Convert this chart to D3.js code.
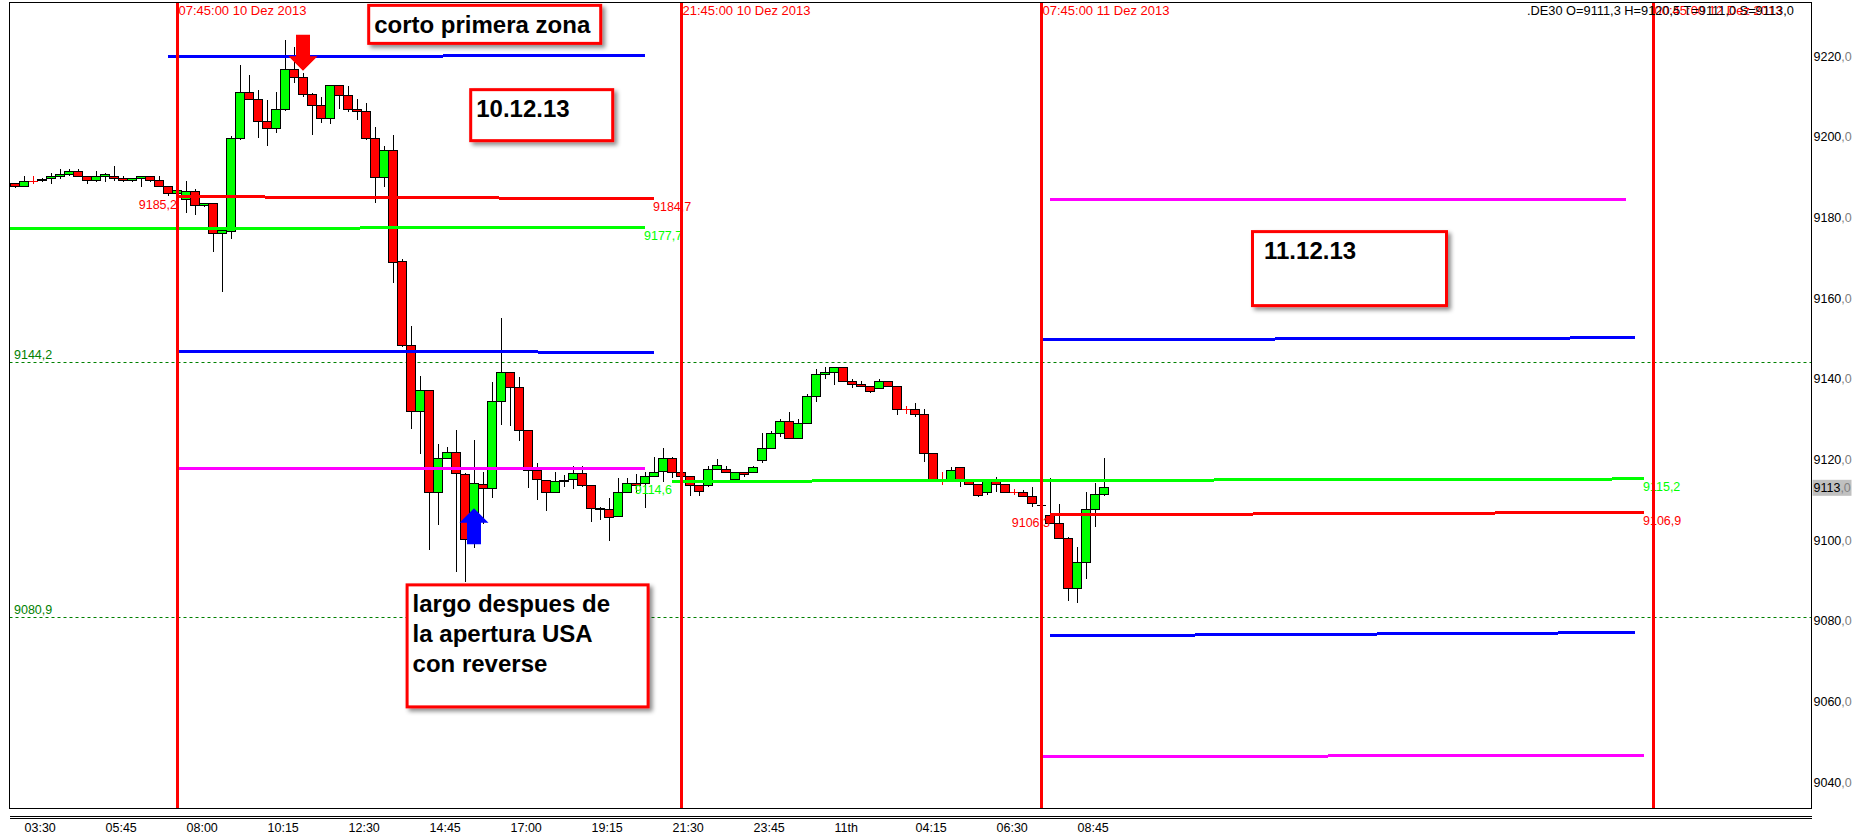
<!doctype html>
<html>
<head>
<meta charset="utf-8">
<title>.DE30 15 min - 10/11 Dez 2013</title>
<script src="https://cdn.jsdelivr.net/npm/d3@7/dist/d3.min.js"></script>
<style>
body { margin: 0; background: #fff; }
svg { display: block; font-family: 'Liberation Sans', Arial, sans-serif; }
.small { font-size: 12.5px; }
.note { font-size: 24px; font-weight: bold; fill: #000; }
</style>
</head>
<body>
<div id="chart"></div>
<script>
// 15 min bars, first bar 10 Dez 2013 03:15
var barStart = new Date(2013, 11, 10, 3, 15);
var barMinutes = 15;

var opens = [9188.5,9187.8,9189.1,9189.1,9189.6,9190.3,9190.8,9191.5,9190.2,9189.1,
  9190.2,9190.3,9189.6,9189.2,9189.6,9190.2,9189.1,9187.8,9186.0,9184.4,
  9186.5,9182.9,9183.4,9176.1,9176.5,9199.7,9211.1,9209.3,9203.9,9202.1,
  9206.9,9216.8,9214.8,9210.6,9207.8,9204.6,9212.8,9210.3,9206.9,9206.4,
  9199.7,9190.0,9196.6,9169.0,9148.3,9132.0,9137.1,9111.9,9120.3,9121.7,
  9116.4,9101.7,9113.9,9112.9,9134.5,9141.6,9137.9,9127.2,9117.2,9114.8,
  9111.9,9114.8,9115.1,9116.6,9113.5,9107.9,9107.5,9106.0,9111.9,9114.1,
  9114.1,9115.9,9117.0,9120.3,9116.8,9115.8,9113.5,9113.5,9117.6,9117.6,
  9115.1,9116.8,9116.8,9119.7,9122.8,9126.5,9129.4,9125.3,9129.0,9135.6,
  9141.1,9141.5,9142.9,9139.4,9138.7,9138.1,9137.7,9139.3,9138.1,9132.5,
  9132.5,9131.2,9121.4,9115.2,9114.5,9118.1,9114.9,9113.9,9111.9,9114.9,
  9113.9,9111.9,9111.9,9110.8,9108.7,9106.1,9104.2,9100.5,9088.1,9094.5,
  9107.5,9111.3];
var highs = [9188.7,9190.3,9190.2,9189.7,9191.0,9192.0,9192.0,9192.0,9190.3,9191.6,
  9191.0,9192.8,9190.2,9189.8,9190.3,9190.4,9190.3,9187.9,9187.0,9189.2,
  9187.0,9183.7,9183.5,9177.1,9200.2,9217.8,9215.4,9211.6,9209.2,9211.2,
  9224.0,9222.4,9215.8,9210.8,9210.0,9212.8,9212.8,9212.6,9209.3,9208.5,
  9202.4,9197.8,9200.6,9169.7,9153.1,9140.7,9137.2,9123.9,9123.2,9127.4,
  9116.6,9124.9,9116.8,9139.3,9155.0,9141.6,9140.6,9127.2,9119.2,9114.8,
  9117.0,9116.2,9118.3,9118.3,9113.5,9108.3,9110.4,9115.5,9115.4,9116.4,
  9117.0,9120.7,9122.8,9120.7,9117.0,9115.9,9113.7,9118.3,9120.1,9118.3,
  9117.0,9117.0,9118.3,9126.5,9127.2,9130.0,9131.9,9130.0,9136.3,9142.4,
  9142.9,9142.9,9142.9,9139.9,9139.5,9138.2,9139.9,9139.4,9138.2,9133.3,
  9134.1,9132.5,9121.7,9117.0,9118.1,9118.2,9115.0,9114.0,9115.0,9115.8,
  9114.0,9112.6,9112.5,9113.3,9108.7,9115.4,9109.0,9100.9,9098.4,9112.0,
  9114.3,9120.5];
var lows = [9187.3,9187.7,9188.3,9188.9,9188.3,9189.5,9190.2,9190.2,9188.3,9188.9,
  9188.9,9189.2,9188.9,9188.9,9187.7,9188.9,9187.7,9185.4,9185.2,9181.2,
  9180.6,9182.7,9171.5,9161.6,9174.6,9199.2,9209.2,9199.7,9197.8,9201.1,
  9206.5,9213.3,9210.0,9200.5,9203.5,9203.2,9206.9,9206.3,9204.2,9199.2,
  9183.7,9187.7,9163.9,9148.0,9127.7,9121.4,9097.6,9103.8,9120.2,9092.1,
  9089.6,9098.0,9104.0,9110.4,9128.6,9128.3,9124.7,9112.9,9110.0,9107.3,
  9111.8,9113.1,9112.6,9113.3,9104.6,9105.0,9099.7,9105.9,9111.8,9111.6,
  9107.9,9115.7,9114.5,9115.4,9114.1,9111.0,9111.0,9113.3,9117.5,9116.6,
  9114.9,9115.6,9116.6,9119.2,9122.6,9125.7,9125.1,9125.1,9128.9,9134.4,
  9139.9,9138.5,9139.2,9137.7,9137.9,9136.4,9137.6,9138.0,9131.1,9131.3,
  9130.5,9119.5,9114.9,9113.7,9114.4,9113.1,9113.7,9110.8,9111.2,9111.9,
  9111.8,9111.2,9110.7,9108.3,9108.7,9104.0,9100.3,9085.0,9084.4,9090.3,
  9103.2,9111.0];
var closes = [9187.8,9188.9,9189.1,9189.5,9190.3,9190.8,9191.5,9190.3,9189.1,9190.2,
  9190.7,9189.7,9189.2,9189.6,9190.2,9189.1,9187.8,9186.0,9186.8,9186.5,
  9182.9,9183.4,9176.1,9176.9,9199.7,9211.1,9209.3,9203.9,9202.1,9206.9,
  9216.8,9214.8,9210.6,9207.8,9204.6,9212.8,9210.3,9206.9,9206.4,9199.7,
  9190.0,9196.6,9168.9,9148.3,9132.0,9137.1,9111.9,9120.3,9121.7,9116.6,
  9100.1,9114.1,9112.9,9134.5,9141.6,9137.9,9127.2,9117.2,9115.0,9111.9,
  9114.5,9114.5,9116.6,9113.5,9107.9,9107.5,9105.7,9111.9,9114.1,9113.5,
  9115.9,9116.8,9120.3,9116.8,9115.8,9113.5,9112.2,9117.6,9118.5,9116.8,
  9116.8,9116.3,9118.1,9122.8,9126.5,9129.4,9125.3,9129.0,9135.6,9141.1,
  9141.5,9142.9,9139.4,9138.7,9138.1,9136.8,9139.3,9138.1,9132.5,9132.5,
  9131.2,9121.4,9115.1,9115.2,9117.2,9114.9,9113.9,9111.2,9114.9,9113.9,
  9111.9,9111.9,9110.8,9109.0,9108.7,9104.2,9100.5,9088.1,9094.5,9107.5,
  9111.4,9113.0];

// horizontal levels (trend lines)
var levelKind  = ['blue','red','green','blue','magenta','green','red','blue','magenta','blue','magenta'];
var levelFrom  = ['2013-12-10 07:30','2013-12-10 07:45','2013-12-10 03:00','2013-12-10 07:45','2013-12-10 07:45',
                  '2013-12-10 21:30','2013-12-11 08:00','2013-12-11 07:45','2013-12-11 08:00','2013-12-11 08:00','2013-12-11 07:45'];
var levelTo    = ['2013-12-10 20:45','2013-12-10 21:00','2013-12-10 20:45','2013-12-10 21:00','2013-12-10 20:45',
                  '2013-12-12 00:30','2013-12-12 00:30','2013-12-12 00:15','2013-12-12 00:00','2013-12-12 00:15','2013-12-12 00:30'];
var levelP1    = [9219.9,9185.2,9177.2,9146.9,9117.7,9114.6,9106.3,9149.7,9184.6,9076.3,9046.4];
var levelP2    = [9220.2,9184.7,9177.6,9146.6,9117.7,9115.2,9106.9,9150.2,9184.6,9077.1,9046.6];
var levelLab1  = ['','9185,2','','','','9114,6','9106,3','','','',''];
var levelLab2  = ['','9184,7','9177,7','','','9115,2','9106,9','','','',''];

// dotted horizontal lines
var hlinePrices = [9144.2, 9080.9];
var hlineLabels = ['9144,2', '9080,9'];

// vertical lines
var vlineTimes  = ['2013-12-10 07:45','2013-12-10 21:45','2013-12-11 07:45','2013-12-12 00:45'];
var vlineLabels = ['07:45:00 10 Dez 2013','21:45:00 10 Dez 2013','07:45:00 11 Dez 2013','00:45:00 12 Dez 2013'];

// arrows
var arrowTimes  = ['2013-12-10 11:15', '2013-12-10 16:00'];
var arrowPrices = [9216.4, 9107.9];
var arrowDirs   = ['down', 'up'];

// text notes
var noteLines  = [['corto primera zona'], ['10.12.13'], ['11.12.13'], ['largo despues de', 'la apertura USA', 'con reverse']];
var noteTimes  = ['2013-12-10 13:02', '2013-12-10 15:52', '2013-12-11 13:35', '2013-12-10 14:06'];
var notePrices = [9233.0, 9212.1, 9176.9, 9089.3];

// axes
var priceTicks = [9040, 9060, 9080, 9100, 9120, 9140, 9160, 9180, 9200, 9220];
var timeTicks  = ['2013-12-10 03:30','2013-12-10 05:45','2013-12-10 08:00','2013-12-10 10:15','2013-12-10 12:30',
                  '2013-12-10 14:45','2013-12-10 17:00','2013-12-10 19:15','2013-12-10 21:30','2013-12-10 23:45',
                  '2013-12-11 02:00','2013-12-11 04:15','2013-12-11 06:30','2013-12-11 08:45'];
var timeTickLabels = ['03:30','05:45','08:00','10:15','12:30','14:45','17:00','19:15','21:30','23:45','11th','04:15','06:30','08:45'];

var lastPrice = 9113.0;
var infoText = '.DE30 O=9111,3 H=9120,5 T=9111,0 S=9113,0';

// ---------------------------------------------------------------

var W = 1857, H = 836;
var plot = { left: 9.5, right: 1811.5, top: 2.5, bottom: 808.5 };
var colors = { blue: '#0000ff', red: '#ff0000', green: '#00ff00', magenta: '#ff00ff' };
// note box sizes: width, height, text padding
var noteBox = [[235, 41, 7], [145, 54, 7], [197, 77, 13], [244, 125, 7]];

var parse = d3.timeParse('%Y-%m-%d %H:%M');

var x = d3.scaleTime()
  .domain([barStart, d3.timeMinute.offset(barStart, 192 * barMinutes)])
  .range([15, 15 + 9 * 192]);

var y = d3.scaleLinear()
  .domain([9040, 9220])
  .range([782.2, 56.3]);

var svg = d3.select('#chart').append('svg')
  .attr('width', W)
  .attr('height', H);

svg.append('rect').attr('width', W).attr('height', H).attr('fill', '#fff');

var defs = svg.append('defs');
defs.append('clipPath').attr('id', 'plotclip')
  .append('rect')
  .attr('x', plot.left).attr('y', plot.top)
  .attr('width', plot.right - plot.left).attr('height', plot.bottom - plot.top);

var shadow = defs.append('filter').attr('id', 'shadow')
  .attr('x', '-10%').attr('y', '-10%').attr('width', '130%').attr('height', '140%');
shadow.append('feDropShadow')
  .attr('dx', 3).attr('dy', 3).attr('stdDeviation', 2)
  .attr('flood-color', '#000').attr('flood-opacity', 0.45);

var g = svg.append('g').attr('clip-path', 'url(#plotclip)');

// dotted lines
hlinePrices.forEach(function(p, i) {
  var yy = Math.round(y(p)) + 0.5;
  g.append('line')
    .attr('x1', plot.left).attr('x2', plot.right)
    .attr('y1', yy).attr('y2', yy)
    .attr('stroke', '#008000').attr('stroke-width', 1)
    .attr('stroke-dasharray', '3,3');
  g.append('text').attr('class', 'small')
    .attr('x', 14).attr('y', yy - 4)
    .attr('fill', '#008000')
    .text(hlineLabels[i]);
});

// candles
var bars = opens.map(function(o, i) {
  return { t: d3.timeMinute.offset(barStart, i * barMinutes), o: o, h: highs[i], l: lows[i], c: closes[i] };
});

var cg = g.append('g').attr('shape-rendering', 'crispEdges');
bars.forEach(function(b) {
  var cx = Math.round(x(b.t));
  var doji = b.o === b.c;
  var flat = b.h === b.l;
  var wickColor = flat ? '#000' : (doji ? '#ff0000' : '#000');
  cg.append('line')
    .attr('x1', cx + 0.5).attr('x2', cx + 0.5)
    .attr('y1', y(b.h)).attr('y2', y(b.l))
    .attr('stroke', wickColor);
  if (doji) {
    cg.append('line')
      .attr('x1', cx - 4).attr('x2', cx + 5)
      .attr('y1', Math.round(y(b.o)) + 0.5).attr('y2', Math.round(y(b.o)) + 0.5)
      .attr('stroke', wickColor);
  } else {
    var top = y(Math.max(b.o, b.c)), bot = y(Math.min(b.o, b.c));
    cg.append('rect')
      .attr('x', cx - 4.5).attr('width', 9)
      .attr('y', top).attr('height', Math.max(1, bot - top))
      .attr('fill', b.c > b.o ? '#00ff00' : '#ff0000')
      .attr('stroke', '#000').attr('stroke-width', 1);
  }
});

// level lines
levelKind.forEach(function(k, i) {
  var x1 = x(parse(levelFrom[i])), x2 = x(parse(levelTo[i]));
  var y1 = y(levelP1[i]), y2 = y(levelP2[i]);
  g.append('line')
    .attr('x1', x1).attr('x2', x2).attr('y1', y1).attr('y2', y2)
    .attr('stroke', colors[k]).attr('stroke-width', 3)
    .attr('shape-rendering', 'crispEdges');
  if (levelLab1[i]) {
    g.append('text').attr('class', 'small')
      .attr('x', x1).attr('y', y1 + 12.5)
      .attr('text-anchor', 'end')
      .attr('fill', colors[k])
      .text(levelLab1[i]);
  }
  if (levelLab2[i]) {
    g.append('text').attr('class', 'small')
      .attr('x', x2 - 1).attr('y', y2 + 12.5)
      .attr('fill', colors[k])
      .text(levelLab2[i]);
  }
});

// vertical lines
vlineTimes.forEach(function(t, i) {
  var xx = x(parse(t));
  g.append('line')
    .attr('x1', xx).attr('x2', xx)
    .attr('y1', plot.top).attr('y2', plot.bottom)
    .attr('stroke', '#ff0000').attr('stroke-width', 3)
    .attr('shape-rendering', 'crispEdges');
  g.append('text')
    .attr('x', xx + 1.5).attr('y', 15)
    .attr('font-size', '13px')
    .attr('fill', '#ff0000')
    .text(vlineLabels[i]);
});

// arrows
arrowTimes.forEach(function(t, i) {
  var ax = x(parse(t)), ay = y(arrowPrices[i]);
  var s = arrowDirs[i] === 'down' ? -1 : 1;
  var pts = [[0, 0], [14.5, 14.5], [7, 14.5], [7, 36], [-7, 36], [-7, 14.5], [-14.5, 14.5]]
    .map(function(p) { return [ax + p[0], ay + s * p[1]]; });
  g.append('path')
    .attr('d', d3.line()(pts) + 'Z')
    .attr('fill', arrowDirs[i] === 'down' ? '#ff0000' : '#0000ff');
});

// notes
noteLines.forEach(function(lines, i) {
  var nx = x(parse(noteTimes[i])), ny = y(notePrices[i]);
  var bw = noteBox[i][0], bh = noteBox[i][1], pad = noteBox[i][2];
  svg.append('rect')
    .attr('x', nx + 1.5).attr('y', ny + 1.5)
    .attr('width', bw - 3).attr('height', bh - 3)
    .attr('fill', '#fff')
    .attr('stroke', '#ff0000').attr('stroke-width', 3)
    .attr('filter', 'url(#shadow)');
  lines.forEach(function(s, j) {
    svg.append('text').attr('class', 'note')
      .attr('x', nx + pad).attr('y', ny + 29 + j * 30)
      .text(s);
  });
});

// frame
svg.append('rect')
  .attr('x', plot.left).attr('y', plot.top)
  .attr('width', plot.right - plot.left).attr('height', plot.bottom - plot.top)
  .attr('fill', 'none').attr('stroke', '#000').attr('shape-rendering', 'crispEdges');
[816.5, 818.5].forEach(function(yy) {
  svg.append('line')
    .attr('x1', plot.left).attr('x2', plot.right)
    .attr('y1', yy).attr('y2', yy)
    .attr('stroke', '#000').attr('shape-rendering', 'crispEdges');
});

// price axis
var yAxis = d3.axisRight(y).tickValues(priceTicks).tickSize(0).tickPadding(2);
var ya = svg.append('g')
  .attr('transform', 'translate(' + plot.right + ',0)')
  .attr('class', 'small')
  .call(yAxis);
ya.select('.domain').remove();
ya.selectAll('text')
  .attr('font-family', null).attr('font-size', null)
  .each(function(d) {
    var t = d3.select(this).text(null).attr('fill', null);
    t.append('tspan').attr('fill', '#000').text(d);
    t.append('tspan').attr('fill', '#808080').text(',0');
  });
ya.attr('font-family', null).attr('font-size', null);

// last price marker
var ly = y(lastPrice);
svg.append('rect')
  .attr('x', plot.right + 1).attr('y', ly - 8)
  .attr('width', 39).attr('height', 16)
  .attr('fill', '#c0c0c0');
var lt = svg.append('text').attr('class', 'small')
  .attr('x', plot.right + 2).attr('y', ly).attr('dy', '0.32em');
lt.append('tspan').attr('fill', '#000').text(String(Math.floor(lastPrice)));
lt.append('tspan').attr('fill', '#808080').text(',0');

// time axis
var xAxis = d3.axisBottom(x)
  .tickValues(timeTicks.map(parse))
  .tickFormat(function(d, i) { return timeTickLabels[i]; })
  .tickSize(0);
var xa = svg.append('g')
  .attr('transform', 'translate(0,818.5)')
  .call(xAxis);
xa.select('.domain').remove();
xa.attr('font-family', null).attr('font-size', null).attr('class', 'small');
xa.selectAll('text')
  .attr('text-anchor', 'start')
  .attr('y', 13).attr('dy', null)
  .attr('fill', '#000');

// info text
svg.append('text')
  .attr('x', 1527).attr('y', 15)
  .attr('font-size', '12.8px')
  .attr('fill', '#000')
  .text(infoText);
</script>
</body>
</html>
